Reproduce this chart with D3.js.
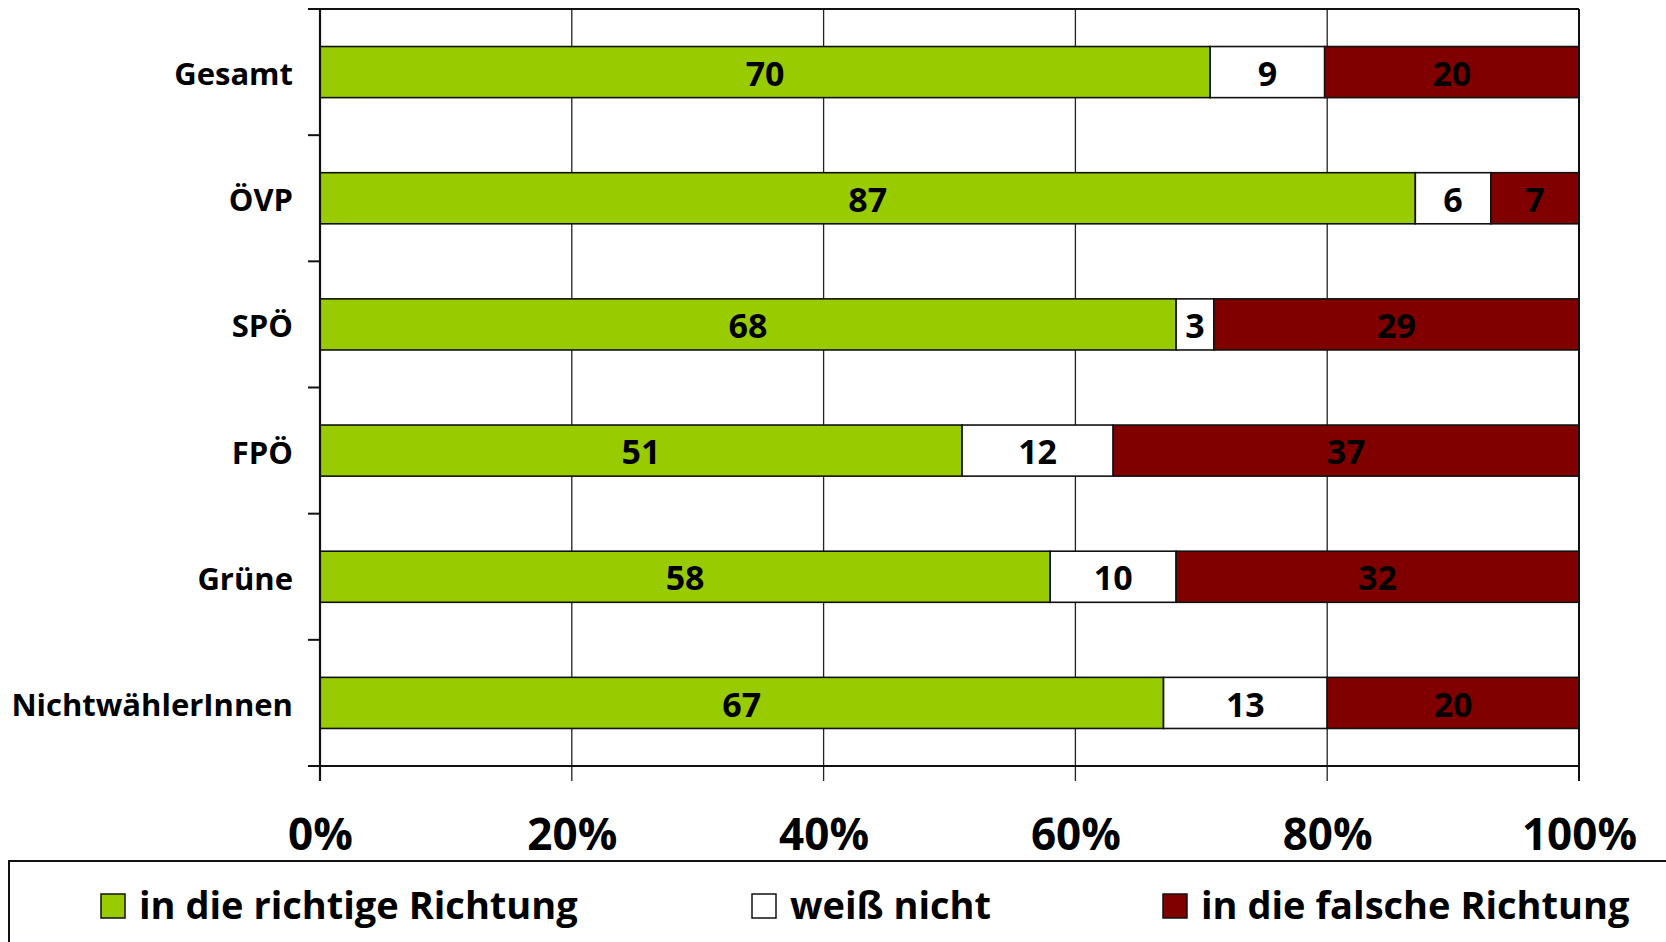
<!DOCTYPE html>
<html>
<head>
<meta charset="utf-8">
<script src="https://cdn.jsdelivr.net/npm/d3@7"></script>
<style>
  body { margin: 0; background: #fff; }
  svg { display: block; font-family: "Open Sans", "Noto Sans", sans-serif; font-weight: 700; }
</style>
</head>
<body>
<svg width="1666" height="942"></svg>
<script>
// chart data
var categories = ["Gesamt", "ÖVP", "SPÖ", "FPÖ", "Grüne", "NichtwählerInnen"];
var richtig = [70, 87, 68, 51, 58, 67];
var weissNicht = [9, 6, 3, 12, 10, 13];
var falsch = [20, 7, 29, 37, 32, 20];
var seriesNames = ["in die richtige Richtung", "weiß nicht", "in die falsche Richtung"];
var xTicks = [0, 0.2, 0.4, 0.6, 0.8, 1];

var colors = ["#99cc00", "#ffffff", "#800000"];

var svg = d3.select("svg");
var plotLeft = 320, plotRight = 1579, plotTop = 9, plotBottom = 766;

var rows = categories.map(function(c, i) {
  return { cat: c, r: richtig[i], w: weissNicht[i], f: falsch[i] };
});

var stack = d3.stack()
  .keys(["r", "w", "f"])
  .offset(d3.stackOffsetExpand);
var layers = stack(rows);

var x = d3.scaleLinear().domain([0, 1]).range([plotLeft, plotRight]);
var pad = 0.595;
var y = d3.scaleBand().domain(categories).range([plotTop, plotBottom])
  .paddingInner(pad).paddingOuter(pad / 2);

// gridlines (also used as ticks below the axis)
svg.append("g")
  .selectAll("line")
  .data(xTicks.slice(1, -1))
  .enter().append("line")
  .attr("x1", function(d) { return x(d); })
  .attr("x2", function(d) { return x(d); })
  .attr("y1", plotTop)
  .attr("y2", plotBottom + 15)
  .attr("stroke", "#222")
  .attr("stroke-width", 1.3);

// bars
var layer = svg.append("g").selectAll("g")
  .data(layers)
  .enter().append("g")
  .attr("fill", function(d, i) { return colors[i]; });

layer.selectAll("rect")
  .data(function(d) { return d; })
  .enter().append("rect")
  .attr("x", function(d) { return x(d[0]); })
  .attr("width", function(d) { return x(d[1]) - x(d[0]); })
  .attr("y", function(d) { return y(d.data.cat); })
  .attr("height", y.bandwidth())
  .attr("stroke", "#111")
  .attr("stroke-width", 1.6);

// value labels
layers.forEach(function(l) {
  svg.append("g").selectAll("text")
    .data(l)
    .enter().append("text")
    .attr("x", function(d) { return (x(d[0]) + x(d[1])) / 2; })
    .attr("y", function(d) { return y(d.data.cat) + y.bandwidth() / 2; })
    .attr("dy", "0.4em")
    .attr("text-anchor", "middle")
    .attr("font-size", 34)
    .attr("fill", "#000")
    .text(function(d) { return d.data[l.key]; });
});

// frame: top, right, left axis, bottom axis
svg.append("line").attr("x1", plotLeft - 12).attr("x2", plotRight).attr("y1", plotTop).attr("y2", plotTop)
  .attr("stroke", "#111").attr("stroke-width", 2);
svg.append("line").attr("x1", plotRight).attr("x2", plotRight).attr("y1", plotTop).attr("y2", plotBottom + 15)
  .attr("stroke", "#111").attr("stroke-width", 2);
svg.append("line").attr("x1", plotLeft).attr("x2", plotLeft).attr("y1", plotTop).attr("y2", plotBottom + 15)
  .attr("stroke", "#111").attr("stroke-width", 2.2);
svg.append("line").attr("x1", plotLeft - 12).attr("x2", plotRight).attr("y1", plotBottom).attr("y2", plotBottom)
  .attr("stroke", "#111").attr("stroke-width", 2.2);

// category boundary ticks on the left
var bounds = d3.range(categories.length + 1).map(function(i) { return plotTop + i * y.step(); });
svg.append("g").selectAll("line")
  .data(bounds)
  .enter().append("line")
  .attr("x1", plotLeft - 12).attr("x2", plotLeft)
  .attr("y1", function(d) { return d; }).attr("y2", function(d) { return d; })
  .attr("stroke", "#111").attr("stroke-width", 2);

// category labels
svg.append("g").selectAll("text")
  .data(categories)
  .enter().append("text")
  .attr("x", plotLeft - 27)
  .attr("y", function(d) { return y(d) + y.bandwidth() / 2; })
  .attr("dy", "0.42em")
  .attr("text-anchor", "end")
  .attr("font-size", 31)
  .text(function(d) { return d; });

// x axis labels
svg.append("g")
  .attr("transform", "translate(0," + (plotBottom + 84) + ")")
  .call(d3.axisBottom(x).tickValues(xTicks).tickSize(0).tickFormat(d3.format(".0%")))
  .call(function(g) {
    g.select(".domain").remove();
    g.selectAll("text")
      .attr("y", 0).attr("dy", 0)
      .attr("font-size", 44)
      .attr("font-family", "Open Sans, sans-serif")
      .attr("font-weight", 700)
      .attr("fill", "#000");
  });

// legend
svg.append("rect")
  .attr("x", 9).attr("y", 861)
  .attr("width", 1700).attr("height", 120)
  .attr("fill", "#fff").attr("stroke", "#111").attr("stroke-width", 2);

var legendX = [101, 752, 1163];
var legend = svg.append("g").selectAll("g")
  .data(seriesNames)
  .enter().append("g")
  .attr("transform", function(d, i) { return "translate(" + legendX[i] + ",894)"; });

legend.append("rect")
  .attr("width", 24).attr("height", 24)
  .attr("fill", function(d, i) { return colors[i]; })
  .attr("stroke", "#111").attr("stroke-width", 1.5);

legend.append("text")
  .attr("x", 38).attr("y", 25)
  .attr("font-size", 38)
  .text(function(d) { return d; });
</script>
</body>
</html>
